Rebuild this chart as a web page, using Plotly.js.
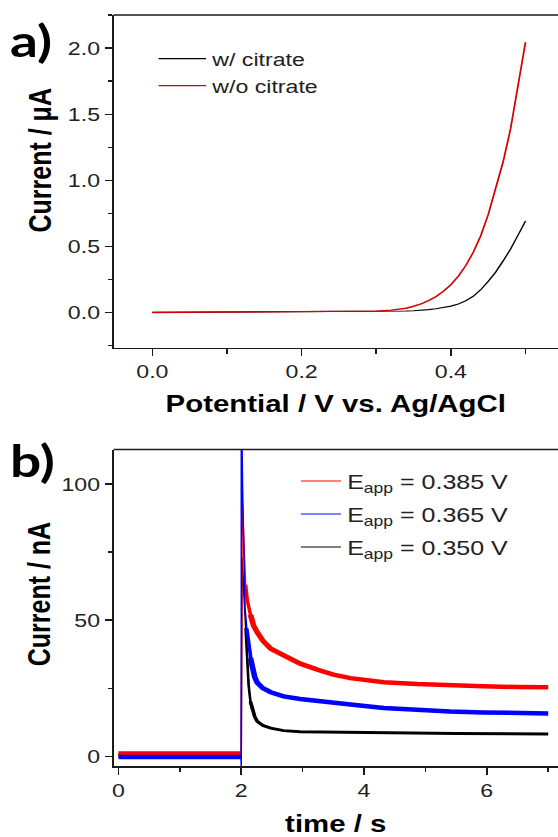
<!DOCTYPE html>
<html><head><meta charset="utf-8">
<script src="https://cdn.plot.ly/plotly-3.0.1.min.js"></script>
<style>
html,body{margin:0;padding:0;overflow:hidden;background:#fff;width:558px;height:837px}
#chart{width:446px;height:837px;transform:scaleX(1.2511);transform-origin:0 0}
</style>
</head><body><div id="chart"></div>
<script>
// ---------- Panel a: linear sweep ----------
const potentialV = [0.00, 0.05, 0.10, 0.15, 0.20, 0.25, 0.30, 0.32, 0.34, 0.35, 0.36, 0.37, 0.38, 0.39, 0.40, 0.41, 0.42, 0.43, 0.44, 0.45, 0.46, 0.47, 0.48, 0.49, 0.50];
const currentWithCitrate = [0.000, 0.001, 0.001, 0.002, 0.003, 0.004, 0.006, 0.008, 0.011, 0.013, 0.016, 0.021, 0.028, 0.037, 0.048, 0.064, 0.088, 0.122, 0.172, 0.235, 0.305, 0.390, 0.480, 0.585, 0.692];
const currentWithoutCitrate = [0.000, 0.001, 0.002, 0.003, 0.004, 0.006, 0.010, 0.018, 0.032, 0.047, 0.065, 0.090, 0.120, 0.160, 0.210, 0.275, 0.355, 0.455, 0.580, 0.740, 0.930, 1.140, 1.390, 1.700, 2.045];
const seriesNamesA = ['w/ citrate', 'w/o citrate'];
const xTitleA = 'Potential / V vs. Ag/AgCl';
const yTitleA = 'Current / \u03bcA';

// ---------- Panel b: chronoamperometry ----------
const timeRed = [0, 1.0, 1.995, 2.0, 2.015, 2.03, 2.05, 2.07, 2.10, 2.15, 2.20, 2.26, 2.35, 2.48, 2.69, 2.96, 3.24, 3.50, 3.78, 4.32, 4.86, 5.40, 5.94, 6.50, 7.00];
const currentRed = [1.0, 1.0, 1.0, 1.0, 95, 84, 70, 63, 57, 52, 48, 45.5, 42.5, 39.5, 37, 34, 31.8, 30, 28.7, 27.2, 26.5, 26, 25.7, 25.4, 25.3];
const timeBlue = [0, 1.0, 1.995, 2.0, 2.0, 2.005, 2.02, 2.04, 2.06, 2.09, 2.12, 2.15, 2.18, 2.22, 2.26, 2.35, 2.48, 2.69, 2.96, 3.24, 3.50, 3.78, 4.32, 4.86, 5.40, 5.94, 6.50, 7.00];
const currentBlue = [-0.3, -0.3, -0.3, -4, 130, 130, 100, 70, 55, 47, 42, 36, 32, 29, 27, 25, 23.5, 22, 21, 20.2, 19.6, 19, 17.7, 16.9, 16.4, 16.1, 15.9, 15.7];
const timeBlack = [0, 1.0, 1.995, 2.0, 2.012, 2.03, 2.05, 2.07, 2.087, 2.10, 2.12, 2.15, 2.18, 2.22, 2.26, 2.35, 2.48, 2.69, 2.96, 3.50, 4.32, 5.50, 7.00];
const currentBlack = [0.4, 0.4, 0.4, 0.4, 73, 66, 58, 47, 39, 33, 26, 20, 17, 14.5, 12.8, 11.3, 10.3, 9.4, 9.0, 8.8, 8.6, 8.3, 8.2];
const seriesNamesB = ['E<sub>app</sub> = 0.385 V', 'E<sub>app</sub> = 0.365 V', 'E<sub>app</sub> = 0.350 V'];
const xTitleB = 'time / s';
const yTitleB = 'Current / nA';

const AX = '#1a1a1a';
const FAM = 'Liberation Sans, Arial, sans-serif';
const TICKF = {family: FAM, size: 18.5, color: '#222'};
const TITLEF = {family: FAM, size: 23.5, color: '#000'};

// thick noisy band before the step and after the fast decay; medium width in the transition
function band(t, v) { return v.map((y, k) => (t[k] < 2 || t[k] >= 2.15) ? y : null); }
function mid(t, v) { return v.map((y, k) => (t[k] >= 2.07 && t[k] <= 2.2) ? y : null); }

function bTraces(t, v, name, color, wThick, rank, grp) {
  return [
    {x: t, y: v, name: name, type: 'scatter', mode: 'lines', line: {color: color, width: 1.2},
     xaxis: 'x2', yaxis: 'y2', legend: 'legend2', legendrank: rank, legendgroup: grp},
    {x: t, y: mid(t, v), showlegend: false, type: 'scatter', mode: 'lines', connectgaps: false,
     line: {color: color, width: (wThick + 1.2) / 2}, xaxis: 'x2', yaxis: 'y2', legendgroup: grp},
    {x: t, y: band(t, v), showlegend: false, type: 'scatter', mode: 'lines', connectgaps: false,
     line: {color: color, width: wThick}, xaxis: 'x2', yaxis: 'y2', legendgroup: grp}
  ];
}

const traces = [
  {x: potentialV, y: currentWithCitrate, name: seriesNamesA[0], type: 'scatter', mode: 'lines',
   line: {color: '#000000', width: 1.2}, xaxis: 'x', yaxis: 'y', legend: 'legend', legendrank: 1},
  {x: potentialV, y: currentWithoutCitrate, name: seriesNamesA[1], type: 'scatter', mode: 'lines',
   line: {color: '#d40000', width: 1.4}, xaxis: 'x', yaxis: 'y', legend: 'legend', legendrank: 2}
].concat(
  bTraces(timeBlack, currentBlack, seriesNamesB[2], '#000000', 3, 3, 'g3'),
  bTraces(timeRed, currentRed, seriesNamesB[0], '#ff0000', 4.5, 1, 'g1'),
  bTraces(timeBlue, currentBlue, seriesNamesB[1], '#0000ff', 4.5, 2, 'g2')
);

function xax(domain, range, dtick, mdtick, fmt, title, anchor, standoff) {
  return {domain: domain, range: range, anchor: anchor, showline: true, linewidth: 1.6, linecolor: AX,
    ticks: 'outside', ticklen: 7, tickwidth: 1.3, tickcolor: AX, tick0: 0, dtick: dtick, tickformat: fmt,
    minor: {ticks: 'outside', ticklen: 4.5, tickwidth: 1.3, tickcolor: AX, dtick: mdtick, tick0: 0, showgrid: false},
    showgrid: false, zeroline: false, tickfont: TICKF,
    title: {text: '<b>' + title + '</b>', font: TITLEF, standoff: standoff}};
}
function yax(domain, range, dtick, mdtick, fmt, anchor) {
  return {domain: domain, range: range, anchor: anchor, showline: true, linewidth: 1.6, linecolor: AX,
    ticks: 'outside', ticklen: 5.5, tickwidth: 1.3, tickcolor: AX, tick0: 0, dtick: dtick, tickformat: fmt,
    minor: {ticks: 'outside', ticklen: 2.8, tickwidth: 1.3, tickcolor: AX, dtick: mdtick, tick0: 0, showgrid: false},
    showgrid: false, zeroline: false, tickfont: TICKF};
}

const H = 837, W = 446;
const layout = {
  width: W, height: H, margin: {l: 0, r: 0, t: 0, b: 0, pad: 0},
  paper_bgcolor: '#ffffff', plot_bgcolor: '#ffffff',
  xaxis: xax([0.2035, 1], [-0.052, 0.5435], 0.2, 0.1, '.1f', xTitleA, 'y', 14),
  yaxis: yax([1 - 347.5 / H, 1 - 15 / H], [-0.265, 2.25], 0.5, 0.25, '.1f', 'x'),
  xaxis2: xax([0.2035, 1], [-0.081, 7.16], 2, 1, 'd', xTitleB, 'y2', 19),
  yaxis2: yax([1 - 766 / H, 1 - 449.5 / H], [-3.6, 112.7], 50, 25, 'd', 'x2'),
  legend: {x: 121.7 / W, y: 1 - 40 / H, xanchor: 'left', yanchor: 'top', bgcolor: 'rgba(0,0,0,0)',
    borderwidth: 0, font: {family: FAM, size: 18.5, color: '#222'}, itemwidth: 38, tracegroupgap: 0},
  legend2: {x: 235.5 / W, y: 1 - 461.5 / H, xanchor: 'left', yanchor: 'top', bgcolor: 'rgba(0,0,0,0)',
    borderwidth: 0, font: {family: FAM, size: 20, color: '#222'}, itemwidth: 32, tracegroupgap: 4},
  shapes: [
    {type: 'line', xref: 'x domain', yref: 'y domain', x0: 0, x1: 1, y0: 1, y1: 1, line: {color: AX, width: 1.6}},
    {type: 'line', xref: 'x2 domain', yref: 'y2 domain', x0: 0, x1: 1, y0: 1, y1: 1, line: {color: AX, width: 1.6}}
  ],
  annotations: [
    {text: '<b>a)</b>', xref: 'paper', yref: 'paper', x: 6 / W, y: 1 - 40 / H, xanchor: 'left', yanchor: 'middle', showarrow: false,
     font: {family: 'Lato, Open Sans, sans-serif', size: 44, color: '#000'}},
    {text: '<b>b)</b>', xref: 'paper', yref: 'paper', x: 6 / W, y: 1 - 460 / H, xanchor: 'left', yanchor: 'middle', showarrow: false,
     font: {family: 'Lato, Open Sans, sans-serif', size: 44, color: '#000'}},
    {text: '<b>' + yTitleA + '</b>', xref: 'paper', yref: 'paper', x: 31.7 / W, y: 1 - 160.8 / H, xanchor: 'center', yanchor: 'middle',
     textangle: -90, showarrow: false, font: {family: FAM, size: 25, color: '#000'}},
    {text: '<b>' + yTitleB + '</b>', xref: 'paper', yref: 'paper', x: 31.3 / W, y: 1 - 594 / H, xanchor: 'center', yanchor: 'middle',
     textangle: -90, showarrow: false, font: {family: FAM, size: 25, color: '#000'}}
  ],
  showlegend: true
};

Plotly.newPlot('chart', traces, layout, {staticPlot: true, displayModeBar: false});
</script></body></html>
